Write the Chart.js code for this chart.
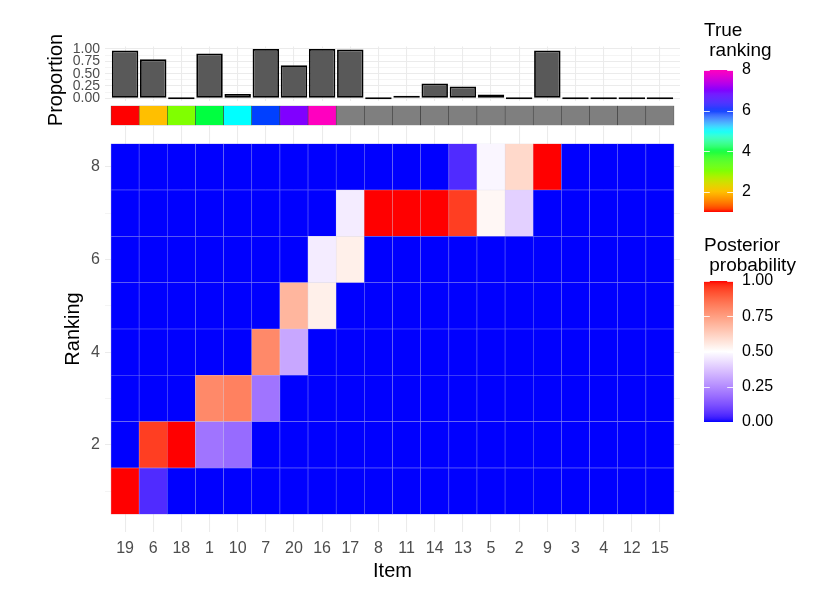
<!DOCTYPE html>
<html><head><meta charset="utf-8">
<script src="https://cdn.jsdelivr.net/npm/chart.js@4.4.1/dist/chart.umd.min.js"></script>
<style>
html,body{margin:0;padding:0;background:#fff;}
#wrap{position:relative;width:830px;height:593px;background:#fff;overflow:hidden;}
canvas{position:absolute;left:0;top:0;}
</style></head><body>
<div id="wrap">
<canvas id="heat" width="830" height="593"></canvas>
<canvas id="bars" width="830" height="593"></canvas>
<canvas id="strip" width="830" height="593"></canvas>
<canvas id="leg1" width="830" height="593"></canvas>
<canvas id="leg2" width="830" height="593"></canvas>
</div>
<script>
// ---------------- data ----------------
const items = ["19","6","18","1","10","7","20","16","17","8","11","14","13","5","2","9","3","4","12","15"];
const proportion = [0.97,0.79,0,0.91,0.09,1.00,0.67,1.00,0.99,0,0.05,0.30,0.24,0.08,0,0.97,0,0,0,0];
const trueRanking = [1,2,3,4,5,6,7,8,null,null,null,null,null,null,null,null,null,null,null,null];
const rankLevels = [1,2,3,4,5,6,7,8];
const rank1 = [1.00,0.05,0,0,0,0,0,0,0,0,0,0,0,0,0,0,0,0,0,0];
const rank2 = [0,0.95,1.00,0.20,0.18,0,0,0,0,0,0,0,0,0,0,0,0,0,0,0];
const rank3 = [0,0,0,0.80,0.82,0.20,0,0,0,0,0,0,0,0,0,0,0,0,0,0];
const rank4 = [0,0,0,0,0,0.80,0.31,0,0,0,0,0,0,0,0,0,0,0,0,0];
const rank5 = [0,0,0,0,0,0,0.69,0.54,0,0,0,0,0,0,0,0,0,0,0,0];
const rank6 = [0,0,0,0,0,0,0,0.46,0.54,0,0,0,0,0,0,0,0,0,0,0];
const rank7 = [0,0,0,0,0,0,0,0,0.46,1.00,1.00,1.00,0.95,0.52,0.40,0,0,0,0,0];
const rank8 = [0,0,0,0,0,0,0,0,0,0,0,0,0.05,0.48,0.60,1.00,0,0,0,0];
const posterior = [rank1,rank2,rank3,rank4,rank5,rank6,rank7,rank8];
const rankingTickLabels = [2,4,6,8];
const proportionTicks = [0,0.125,0.25,0.375,0.5,0.625,0.75,0.875,1];
const proportionTickLabels = [0,0.25,0.5,0.75,1];
const legendRankTicks = [2,4,6,8];
const legendProbTicks = [0,0.25,0.5,0.75,1];
const rainbow8 = ["#FF0000","#FFBF00","#80FF00","#00FF40","#00FFFF","#0040FF","#8000FF","#FF00BF"];
const probColours = ["#0000FF","#FFFFFF","#FF0000"];

// ---------------- colour helpers (CIELAB interpolation) ----------------
function hex2rgb(h){h=h.replace('#','');return [0,2,4].map(i=>parseInt(h.substr(i,2),16));}
function s2l(c){c/=255;return c<=0.04045?c/12.92:Math.pow((c+0.055)/1.055,2.4);}
function l2s(c){c=c<=0.0031308?12.92*c:1.055*Math.pow(Math.max(c,0),1/2.4)-0.055;return Math.round(Math.max(0,Math.min(1,c))*255);}
const Xn=0.95047,Yn=1,Zn=1.08883;
function ff(t){return t>216/24389?Math.cbrt(t):(24389/27*t+16)/116;}
function fi(t){return t>6/29?t*t*t:3*(6/29)*(6/29)*(t-4/29);}
function rgb2lab(c){const r=s2l(c[0]),g=s2l(c[1]),b=s2l(c[2]);
  const X=(0.4124564*r+0.3575761*g+0.1804375*b)/Xn,Y=(0.2126729*r+0.7151522*g+0.0721750*b)/Yn,Z=(0.0193339*r+0.1191920*g+0.9503041*b)/Zn;
  const fx=ff(X),fy=ff(Y),fz=ff(Z);return [116*fy-16,500*(fx-fy),200*(fy-fz)];}
function lab2rgb(l){const fy=(l[0]+16)/116,fx=fy+l[1]/500,fz=fy-l[2]/200;
  const X=Xn*fi(fx),Y=Yn*fi(fy),Z=Zn*fi(fz);
  return [l2s(3.2404542*X-1.5371385*Y-0.4985314*Z),l2s(-0.9692660*X+1.8760108*Y+0.0415560*Z),l2s(0.0556434*X-0.2040259*Y+1.0572252*Z)];}
function makeRamp(hexes,vmin,vmax){
  const labs=hexes.map(h=>rgb2lab(hex2rgb(h)));
  return function(v){
    let t=(v-vmin)/(vmax-vmin)*(labs.length-1);t=Math.max(0,Math.min(labs.length-1,t));
    const i=Math.min(labs.length-2,Math.floor(t)),f=t-i;
    const a=labs[i],b=labs[i+1];
    const c=lab2rgb([a[0]+(b[0]-a[0])*f,a[1]+(b[1]-a[1])*f,a[2]+(b[2]-a[2])*f]);
    return 'rgb('+c[0]+','+c[1]+','+c[2]+')';
  };
}
function rampRGB(ramp,v){return ramp(v).match(/\d+/g).map(Number);}
const probColour = makeRamp(probColours,0,1);
const rankColour = makeRamp(rainbow8,1,8);
function tileBorder(v){const c=rampRGB(probColour,v);const g=[210,210,232];
  return 'rgb('+c.map((x,i)=>Math.round(x*0.45+g[i]*0.55)).join(',')+')';}

// ---------------- common settings ----------------
const FONT="'Liberation Sans', Arial, Helvetica, sans-serif";
Chart.defaults.font.family=FONT;
Chart.defaults.animation=false;
Chart.defaults.responsive=false;
Chart.defaults.maintainAspectRatio=false;
Chart.defaults.plugins.legend.display=false;
Chart.defaults.plugins.tooltip.enabled=false;
Chart.defaults.devicePixelRatio=1;
const GRID='#EBEBEB';
const X_MIN=0.287, X_MAX=20.713;

function xScale(show){
  return {type:'linear',min:X_MIN,max:X_MAX,offset:false,
    afterBuildTicks:s=>{s.ticks=items.map((_,i)=>({value:i+1}));},
    afterFit:s=>{s.height=show?61:0;},
    grid:{color:GRID,lineWidth:1.07,drawTicks:false,offset:false},
    border:{display:false},
    ticks:{display:show,autoSkip:false,maxRotation:0,minRotation:0,padding:7,color:'#4D4D4D',font:{size:16},
      callback:v=>items[Math.round(v)-1]},
    title:{display:show,text:'Item',color:'#000',font:{size:20},padding:{top:0,bottom:9.6}}
  };
}

// ---------------- heatmap ----------------
new Chart(document.getElementById('heat'),{
  type:'bar',
  data:{datasets:rankLevels.map((r,ri)=>({
    data:items.map((it,i)=>({x:i+1,y:[r-0.5,r+0.5]})),
    backgroundColor:posterior[ri].map(v=>probColour(v)),
    borderColor:posterior[ri].map(v=>tileBorder(v)),
    borderWidth:0.6,borderSkipped:false,grouped:false,
    barPercentage:1,categoryPercentage:1
  }))},
  options:{
    layout:{padding:{left:0,right:150,top:126,bottom:0}},
    scales:{
      x:xScale(true),
      y:{type:'linear',min:0.116,max:8.884,
        afterBuildTicks:s=>{s.ticks=rankLevels.map(v=>({value:v}));},
        afterFit:s=>{s.width=105;},
        grid:{color:GRID,drawTicks:false,lineWidth:c=>(c.tick&&rankingTickLabels.includes(c.tick.value))?1.07:0.53},
        border:{display:false},
        ticks:{autoSkip:false,padding:5,color:'#4D4D4D',font:{size:16},callback:v=>rankingTickLabels.includes(v)?String(v):''},
        title:{display:true,text:'Ranking',color:'#000',font:{size:20},padding:{top:61,bottom:0}}
      }
    }
  }
});

// ---------------- proportion bars ----------------
new Chart(document.getElementById('bars'),{
  type:'bar',
  data:{datasets:[{
    data:items.map((it,i)=>({x:i+1,y:proportion[i]})),
    backgroundColor:'#595959',borderColor:'#000000',borderWidth:1.8,borderSkipped:false,
    barPercentage:0.94,categoryPercentage:1,minBarLength:2
  }]},
  options:{
    layout:{padding:{left:0,right:150,top:46.5,bottom:492.2}},
    scales:{
      x:xScale(false),
      y:{type:'linear',min:-0.05,max:1.05,
        afterBuildTicks:s=>{s.ticks=proportionTicks.map(v=>({value:v}));},
        afterFit:s=>{s.width=105;},
        grid:{color:GRID,drawTicks:false,lineWidth:c=>(c.tick&&proportionTickLabels.includes(c.tick.value))?1.07:0.53},
        border:{display:false},
        ticks:{autoSkip:false,padding:5,color:'#4D4D4D',font:{size:14},callback:v=>proportionTickLabels.includes(v)?v.toFixed(2):''}
      }
    }
  },
  plugins:[{id:'ptitle',afterDraw(ch){const c=ch.ctx;c.save();c.translate(62,80);c.rotate(-Math.PI/2);
    c.font='20px '+FONT;c.fillStyle='#000';c.textAlign='center';c.textBaseline='alphabetic';c.fillText('Proportion',0,0);c.restore();}}]
});

// ---------------- true ranking strip ----------------
new Chart(document.getElementById('strip'),{
  type:'bar',
  data:{datasets:[{
    data:items.map((it,i)=>({x:i+1,y:[0,1]})),
    backgroundColor:trueRanking.map(r=>r==null?'#7F7F7F':rankColour(r)),
    borderColor:'rgba(40,40,40,0.85)',borderWidth:0.6,borderSkipped:false,
    barPercentage:1,categoryPercentage:1
  }]},
  options:{
    layout:{padding:{left:105,right:150,top:105.7,bottom:467.7}},
    scales:{
      x:{type:'linear',min:X_MIN,max:X_MAX,display:false,offset:false,grid:{offset:false}},
      y:{type:'linear',min:0,max:1,display:false}
    }
  }
});

// ---------------- colourbar legends ----------------
function legend(id,top,bottom,vmin,vmax,ticks,fmt,ramp,titleLines,titleBase){
  new Chart(document.getElementById(id),{
    type:'bar',
    data:{labels:[''],datasets:[{
      data:[[vmin,vmax]],borderWidth:0,barPercentage:1,categoryPercentage:1,
      backgroundColor:(ctx)=>{const ch=ctx.chart,ys=ch.scales.y;if(!ys||!ch.chartArea)return '#888';
        const y0=ys.getPixelForValue(vmin),y1=ys.getPixelForValue(vmax);
        const g=ch.ctx.createLinearGradient(0,y0,0,y1);
        for(let k=0;k<=48;k++){g.addColorStop(k/48,ramp(vmin+(vmax-vmin)*k/48));}
        return g;}
    }]},
    options:{
      layout:{padding:{left:704,right:37,top:top,bottom:593-bottom}},
      scales:{
        x:{display:false},
        y:{type:'linear',position:'right',min:vmin,max:vmax,
          afterBuildTicks:s=>{s.ticks=ticks.map(v=>({value:v}));},
          afterFit:s=>{s.width=60;},
          grid:{display:false,drawTicks:false},border:{display:false},
          ticks:{autoSkip:false,padding:9,color:'#000',font:{size:16},callback:v=>fmt(v)}
        }
      }
    },
    plugins:[{id:'legdeco',afterDatasetsDraw(ch){
      const c=ch.ctx,a=ch.chartArea,ys=ch.scales.y;c.save();
      c.strokeStyle='rgba(255,255,255,0.85)';c.lineWidth=1;
      const tl=(a.right-a.left)/5;
      ticks.forEach(v=>{const p=Math.round(ys.getPixelForValue(v))+0.5;
        c.beginPath();c.moveTo(a.left,p);c.lineTo(a.left+tl,p);c.moveTo(a.right-tl,p);c.lineTo(a.right,p);c.stroke();});
      c.font='19px '+FONT;c.fillStyle='#000';c.textAlign='left';c.textBaseline='alphabetic';
      titleLines.forEach((t,i)=>c.fillText(t,704,titleBase[i]));
      c.restore();}}]
  });
}
legend('leg1',70,212,1,8,legendRankTicks,v=>String(v),rankColour,['True',' ranking'],[36,56]);
legend('leg2',281,422,0,1,legendProbTicks,v=>v.toFixed(2),probColour,['Posterior',' probability'],[251,270.5]);
</script>
</body></html>
